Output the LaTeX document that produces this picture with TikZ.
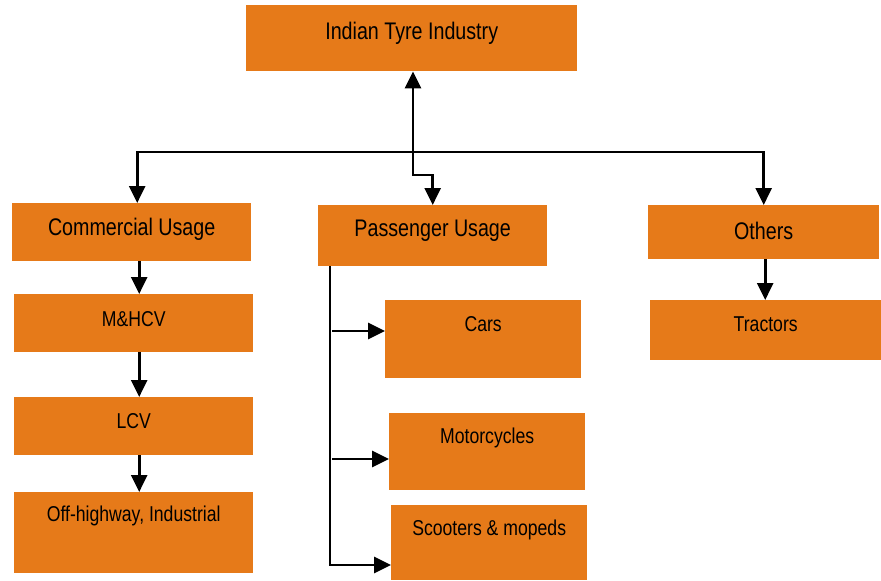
\documentclass[tikz,border=0pt]{standalone}
\usepackage{fontspec}
\setmainfont[FakeStretch=0.82]{Liberation Sans}
\usetikzlibrary{arrows.meta,calc}
\definecolor{boxorange}{RGB}{230,122,25}
\tikzset{
  box/.style={fill=boxorange, draw=none, inner sep=0pt, anchor=north west},
  biglbl/.style={font=\fontsize{24}{27}\selectfont, inner sep=0pt, text=black},
  smalllbl/.style={font=\fontsize{21.5}{24}\selectfont, inner sep=0pt, text=black},
  arr/.style={line width=2.7pt, -{Triangle[length=17pt,width=16pt]}},
  ln/.style={line width=2.7pt}
}
\begin{document}
\begin{tikzpicture}[x=1pt,y=-1pt]
\useasboundingbox (0,0) rectangle (881,581);
% boxes
\node[box, minimum width=331, minimum height=66] (top) at (246,5) {};
\node[biglbl] at ($(top.north)+(0,28)$) {Indian Tyre Industry};

\node[box, minimum width=239, minimum height=58] (comm) at (12,203) {};
\node[biglbl] at ($(comm.north)+(0,26)$) {Commercial Usage};
\node[box, minimum width=239, minimum height=58] (mh) at (14,294) {};
\node[smalllbl] at ($(mh.north)+(0,25)$) {M\&HCV};
\node[box, minimum width=239, minimum height=58] (lcv) at (14,397) {};
\node[smalllbl] at ($(lcv.north)+(0,24)$) {LCV};
\node[box, minimum width=239, minimum height=81] (off) at (14,492) {};
\node[smalllbl] at ($(off.north)+(0,24)$) {Off-highway, Industrial};

\node[box, minimum width=229, minimum height=61] (pass) at (318,205) {};
\node[biglbl] at ($(pass.north)+(0,26)$) {Passenger Usage};
\node[box, minimum width=196, minimum height=78] (cars) at (385,300) {};
\node[smalllbl] at ($(cars.north)+(0,24)$) {Cars};
\node[box, minimum width=196, minimum height=77] (moto) at (389,413) {};
\node[smalllbl] at ($(moto.north)+(0,25)$) {Motorcycles};
\node[box, minimum width=196, minimum height=75] (scoot) at (391,505) {};
\node[smalllbl] at ($(scoot.north)+(0,25)$) {Scooters \& mopeds};

\node[box, minimum width=231, minimum height=54] (oth) at (648,205) {};
\node[biglbl] at ($(oth.north)+(0,26)$) {Others};
\node[box, minimum width=231, minimum height=60] (trac) at (650,300) {};
\node[smalllbl] at ($(trac.north)+(0,24)$) {Tractors};

% top connectors
\coordinate (j) at (413,152);
\draw[arr] (j) -- (j |- top.south);
\draw[arr] (j) -| ([xshift=5.5pt]comm.north);
\draw[arr] (j) -| (oth.north);
\draw[arr] (j) -- ++(0,23) -| (pass.north);

% commercial chain
\draw[arr] ([xshift=7.5pt]comm.south) -- ([xshift=7.5pt]comm.south |- mh.north);
\draw[arr] ([xshift=5.5pt]mh.south) -- ([xshift=5.5pt]mh.south |- lcv.north);
\draw[arr] ([xshift=5.5pt]lcv.south) -- ([xshift=5.5pt]lcv.south |- off.north);

% others chain
\draw[arr] ([xshift=1.5pt]oth.south) -- ([xshift=1.5pt]oth.south |- trac.north);

% passenger branches
\coordinate (ps) at ($(pass.south west)+(12,0)$);
\coordinate (c1) at ($(cars.north west)+(0,31)$);
\coordinate (c2) at ($(moto.north west)+(0,46)$);
\coordinate (c3) at ($(scoot.north west)+(0,60)$);
\draw[arr] (ps) |- (c3);
\draw[arr] ([xshift=2pt]ps |- c1) -- (c1);
\draw[arr] ([xshift=2pt]ps |- c2) -- (c2);
\end{tikzpicture}
\end{document}
